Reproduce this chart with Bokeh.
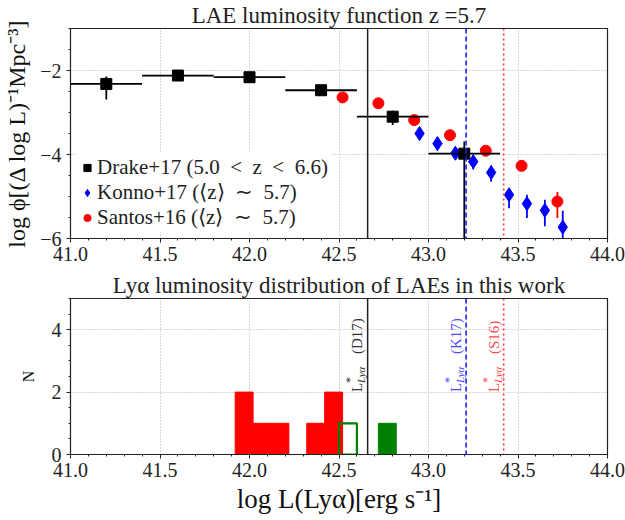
import math
from bokeh.plotting import figure
from bokeh.models import (Range1d, FixedTicker, Span, Legend, LegendItem,
                          ColumnDataSource, NumeralTickFormatter)
from bokeh.layouts import column
from bokeh.embed import file_html
from bokeh.resources import INLINE
from bokeh.core.properties import value

FONT = "Liberation Serif"

# ---------------- data ----------------
# Drake+17 (5.0 < z < 6.6)
drake_logL = [41.2, 41.6, 42.0, 42.4, 42.8, 43.2]
drake_halfbin = [0.2, 0.2, 0.2, 0.2, 0.2, 0.2]
drake_phi = [-2.32, -2.12, -2.16, -2.47, -3.10, -3.98]
drake_phi_lo = [-2.69, -2.18, -2.22, -2.53, -3.30, -6.5]
drake_phi_hi = [-2.14, -2.06, -2.10, -2.41, -2.96, -3.69]

# Konno+17
konno_logL = [42.95, 43.05, 43.15, 43.25, 43.35, 43.45, 43.55, 43.65, 43.75]
konno_phi = [-3.50, -3.74, -3.97, -4.17, -4.43, -4.96, -5.17, -5.33, -5.73]
konno_phi_lo = [-3.64, -3.90, -4.12, -4.36, -4.65, -5.28, -5.51, -5.71, -6.10]
konno_phi_hi = [-3.37, -3.59, -3.84, -4.02, -4.26, -4.81, -4.96, -5.08, -5.34]

# Santos+16
santos_logL = [42.52, 42.72, 42.92, 43.12, 43.32, 43.52, 43.72]
santos_phi = [-2.64, -2.78, -3.18, -3.54, -3.91, -4.27, -5.12]
santos_phi_lo = [-2.73, -2.84, -3.24, -3.60, -3.97, -4.33, -5.51]
santos_phi_hi = [-2.56, -2.72, -3.12, -3.48, -3.85, -4.21, -4.89]

# L* values
lstar_d17 = 42.66
lstar_k17 = 43.21
lstar_s16 = 43.42

# histogram of this work
red_edges = [41.92, 42.02, 42.12, 42.22, 42.32, 42.42, 42.52]
red_counts = [2, 1, 1, 0, 1, 2]
green_open_edges = [42.50, 42.60]
green_open_counts = [1]
green_fill_edges = [42.72, 42.82]
green_fill_counts = [1]

x_ticks = [41.0, 41.5, 42.0, 42.5, 43.0, 43.5, 44.0]
y1_ticks = [-6, -4, -2]
y1_tick_labels = {-6: "−6", -4: "−4", -2: "−2"}
y2_ticks = [0, 2, 4]

x_minor = [41.0 + 0.1 * i for i in range(31)]
y1_minor = [-6 + 0.5 * i for i in range(11)]
y2_minor = [0.5 * i for i in range(11)]

W = 625
FRAME_L, FRAME_R = 70, 18


def style(p, yticks, yminor, ylabel, ylabel_size, ylabel_standoff, title):
    p.title.text = title
    p.title.text_font = FONT
    p.title.text_font_size = "23px"
    p.title.text_font_style = "normal"
    p.title.text_color = "#222222"
    p.title.align = "center"
    p.title.standoff = 1
    p.title.offset = 0
    p.title.text_line_height = 1.0
    p.outline_line_color = "#222222"
    p.outline_line_width = 1.2
    p.xaxis.ticker = FixedTicker(ticks=x_ticks, minor_ticks=x_minor)
    p.yaxis.ticker = FixedTicker(ticks=yticks, minor_ticks=yminor)
    p.xaxis.formatter = NumeralTickFormatter(format="0.0")
    for ax in (p.xaxis[0], p.yaxis[0]):
        ax.axis_line_color = "#222222"
        ax.major_tick_in = 0
        ax.major_tick_out = 4
        ax.minor_tick_in = 0
        ax.minor_tick_out = 2
        ax.major_tick_line_color = "#222222"
        ax.minor_tick_line_color = "#222222"
        ax.major_label_text_font = FONT
        ax.major_label_text_font_size = "20px"
        ax.major_label_text_color = "#222222"
        ax.axis_label_text_font = FONT
        ax.axis_label_text_font_style = "normal"
        ax.axis_label_text_color = "#111111"
    p.yaxis[0].axis_label = ylabel
    p.yaxis[0].axis_label_text_font_size = ylabel_size
    p.yaxis[0].axis_label_standoff = ylabel_standoff
    p.yaxis[0].major_label_standoff = 5
    p.xaxis[0].major_label_standoff = 4
    for g in (p.xgrid[0], p.ygrid[0]):
        g.grid_line_color = "#b0b0b0"
        g.grid_line_dash = "1 2"
        g.grid_line_width = 1
    p.xgrid.ticker = FixedTicker(ticks=x_ticks)
    p.ygrid.ticker = FixedTicker(ticks=yticks)
    p.background_fill_color = "white"
    p.border_fill_color = "white"


LINES = ((lstar_d17, "#222222", "solid", 1.5),
         (lstar_k17, "#1a1aff", "5 3", 1.6),
         (lstar_s16, "#ff3030", "2 3", 1.6))

# ---------------- top panel ----------------
p1 = figure(width=W, height=270, x_range=Range1d(41, 44), y_range=Range1d(-6, -1),
            output_backend="svg", toolbar_location=None,
            min_border_left=FRAME_L, min_border_right=FRAME_R,
            min_border_top=28, min_border_bottom=32)
style(p1, y1_ticks, y1_minor, "log ϕ[(Δ log L)⁻¹Mpc⁻³]", "24px", 7,
      "LAE luminosity function z =5.7")
p1.yaxis[0].major_label_overrides = y1_tick_labels

dsrc = ColumnDataSource(dict(
    x=drake_logL, y=drake_phi, lo=drake_phi_lo, hi=drake_phi_hi,
    x0=[a - b for a, b in zip(drake_logL, drake_halfbin)],
    x1=[a + b for a, b in zip(drake_logL, drake_halfbin)]))
ksrc = ColumnDataSource(dict(x=konno_logL, y=konno_phi, lo=konno_phi_lo, hi=konno_phi_hi))
ssrc = ColumnDataSource(dict(x=santos_logL, y=santos_phi, lo=santos_phi_lo, hi=santos_phi_hi))

for xv, col, dash, w in LINES:
    p1.add_layout(Span(location=xv, dimension="height", line_color=col,
                       line_dash=dash, line_width=w))

p1.segment(x0="x", y0="lo", x1="x", y1="hi", source=ssrc, line_color="red", line_width=1.8)
r_s = p1.scatter("x", "y", source=ssrc, marker="circle", size=11, fill_color="red", line_color="red")
p1.segment(x0="x", y0="lo", x1="x", y1="hi", source=ksrc, line_color="blue", line_width=1.8)
r_k = p1.scatter("x", "y", source=ksrc, marker="diamond", size=14, fill_color="blue", line_color="blue")
p1.segment(x0="x0", y0="y", x1="x1", y1="y", source=dsrc, line_color="black", line_width=1.8)
p1.segment(x0="x", y0="lo", x1="x", y1="hi", source=dsrc, line_color="black", line_width=1.8)
r_d = p1.scatter("x", "y", source=dsrc, marker="square", size=11, fill_color="black", line_color="black")

legend = Legend(items=[LegendItem(label="Drake+17 (5.0\u2002<\u2002z\u2002<\u20026.6)", renderers=[r_d]),
                       LegendItem(label="Konno+17 (⟨z⟩\u2002∼\u20025.7)", renderers=[r_k]),
                       LegendItem(label="Santos+16 (⟨z⟩\u2002∼\u20025.7)", renderers=[r_s])],
                location="bottom_left", margin=6, padding=2, spacing=0,
                glyph_width=18, glyph_height=21, label_height=21, label_standoff=1,
                label_text_font=FONT, label_text_font_size="21px",
                label_text_line_height=0.95,
                label_text_color="#222222", border_line_alpha=0,
                background_fill_color="white", background_fill_alpha=1.0)
p1.add_layout(legend)

# ---------------- bottom panel ----------------
p2 = figure(width=W, height=250, x_range=Range1d(41, 44), y_range=Range1d(0, 5),
            output_backend="svg", toolbar_location=None,
            min_border_left=FRAME_L, min_border_right=FRAME_R,
            min_border_top=27, min_border_bottom=66)
style(p2, y2_ticks, y2_minor, "N", "16px", 12,
      "Lyα luminosity distribution of LAEs in this work")
p2.xaxis[0].axis_label = "log L(Lyα)[erg s⁻¹]"
p2.xaxis[0].axis_label_text_font_size = "27px"
p2.xaxis[0].axis_label_standoff = 4

p2.quad(left=red_edges[:-1], right=red_edges[1:], bottom=0, top=red_counts,
        fill_color="red", line_color="red", line_width=1)
p2.quad(left=green_fill_edges[:-1], right=green_fill_edges[1:], bottom=0, top=green_fill_counts,
        fill_color="green", line_color="green", line_width=1)
p2.quad(left=green_open_edges[:-1], right=green_open_edges[1:], bottom=0, top=green_open_counts,
        fill_alpha=0, line_color="green", line_width=2.2)

for xv, col, dash, w in LINES:
    p2.add_layout(Span(location=xv, dimension="height", line_color=col,
                       line_dash=dash, line_width=w))

# rotated L*_{Lya}(...) labels
lab_x = [42.60, 43.155, 43.365]
lab_tag = ["(D17)", "(K17)", "(S16)"]
lab_col = ["#333333", "#4d4dff", "#ff4d4d"]
ang = math.pi / 2
for xv, tag, col in zip(lab_x, lab_tag, lab_col):
    p2.text(x=[xv], y=[2.0], text=["L"], angle=ang, text_font=value(FONT),
            text_font_size="15px", text_color=col, text_baseline="alphabetic", text_align="left")
    p2.text(x=[xv], y=[2.0], text=["*"], angle=ang, x_offset=-7, y_offset=-9,
            text_font=value(FONT), text_font_size="12px", text_color=col,
            text_baseline="alphabetic", text_align="left")
    p2.text(x=[xv], y=[2.0], text=["Lyα"], angle=ang, x_offset=4, y_offset=-9,
            text_font=value(FONT), text_font_style="italic", text_font_size="11px",
            text_color=col, text_baseline="alphabetic", text_align="left")
    p2.text(x=[xv], y=[2.0], text=[tag], angle=ang, y_offset=-38,
            text_font=value(FONT), text_font_size="15px", text_color=col,
            text_baseline="alphabetic", text_align="left")

layout = column(p1, p2, spacing=0)
open("out.html", "w").write(file_html(layout, INLINE))
